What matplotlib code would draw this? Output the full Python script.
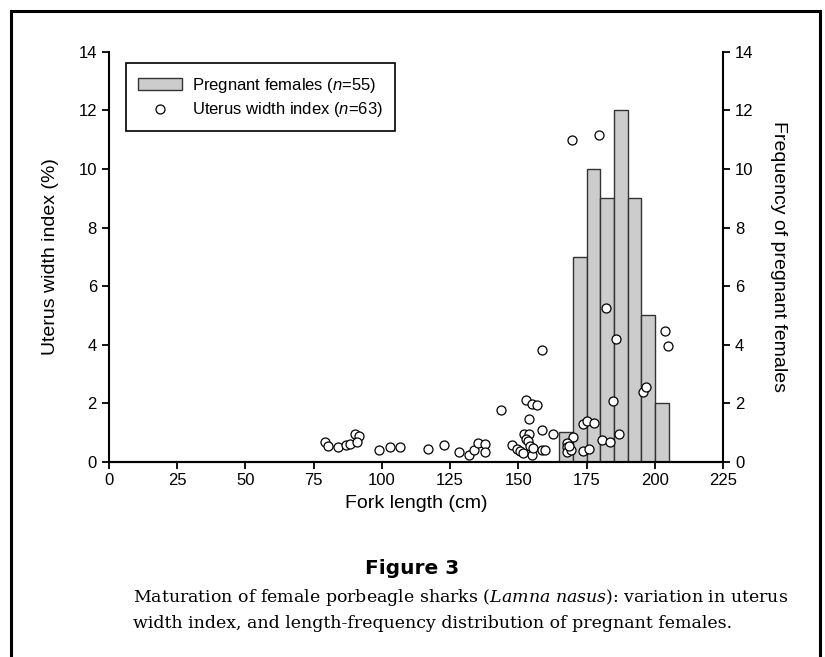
#!/usr/bin/env python3

import matplotlib
matplotlib.use('Agg')
import matplotlib.pyplot as plt
from matplotlib.patches import Rectangle

# pregnant females, 5 cm bins
bin_left = [165, 170, 175, 180, 185, 190, 195, 200]
bin_count = [1, 7, 10, 9, 12, 9, 5, 2]

# uterus width index vs fork length
fork_len = [79.0, 80.2, 83.9, 87.0, 88.2, 90.0, 91.8, 90.9, 98.9, 102.8,
            106.5, 116.8, 122.9, 128.4, 131.8, 133.9, 135.1, 137.9, 137.9, 143.6,
            147.6, 149.4, 150.7, 152.1, 153.7, 152.8, 153.4, 154.3, 154.8, 152.8,
            155.0, 156.8, 153.8, 155.2, 151.5,
            158.7, 158.7, 158.7, 159.8, 162.8,
            169.9, 167.6, 167.9, 167.6, 169.2, 168.4,
            169.5, 179.6,
            173.8, 175.0, 177.8, 173.8, 175.7, 180.6, 181.9, 183.7, 184.7, 185.7, 186.7,
            195.7, 196.7, 203.6, 204.7]
uwi = [0.66, 0.55, 0.51, 0.57, 0.61, 0.93, 0.89, 0.66, 0.41, 0.51,
       0.51, 0.43, 0.58, 0.32, 0.24, 0.39, 0.63, 0.61, 0.32, 1.75,
       0.56, 0.43, 0.36, 0.95, 0.94, 0.78, 0.70, 0.52, 0.23, 2.10,
       1.96, 1.94, 1.45, 0.47, 0.30,
       3.81, 1.09, 0.39, 0.39, 0.94,
       0.86, 0.63, 0.50, 0.32, 0.39, 0.55,
       10.98, 11.16,
       1.29, 1.40, 1.31, 0.36, 0.42, 0.74, 5.24, 0.67, 2.09, 4.18, 0.94,
       2.37, 2.56, 4.45, 3.95]


def main():
    plt.rcParams['font.family'] = ['Liberation Sans', 'DejaVu Sans']
    plt.rcParams['mathtext.fontset'] = 'custom'
    plt.rcParams['mathtext.rm'] = 'Liberation Sans'
    plt.rcParams['mathtext.it'] = 'Liberation Sans:italic'

    fig = plt.figure(figsize=(8.25, 6.57), dpi=100)
    ax = fig.add_axes([0.1318, 0.2973, 0.7449, 0.6236])
    ax2 = ax.twinx()

    ax2.bar(bin_left, bin_count, width=5, align='edge', color='#cccccc',
            edgecolor='#333333', linewidth=1.0, label='Pregnant females ($n$=55)')
    ax2.set_ylim(0, 14)
    ax2.set_yticks(range(0, 15, 2))
    ax2.set_ylabel('Frequency of pregnant females', rotation=270,
                   labelpad=24, fontsize=14)

    sc = ax.scatter(fork_len, uwi, s=42, facecolor='white', edgecolor='black',
                    linewidths=0.9, zorder=3, label='Uterus width index ($n$=63)')
    ax.set_xlim(0, 225)
    ax.set_ylim(0, 14)
    ax.set_xticks(range(0, 226, 25))
    ax.set_yticks(range(0, 15, 2))
    ax.set_xlabel('Fork length (cm)', fontsize=14, labelpad=5)
    ax.set_ylabel('Uterus width index (%)', fontsize=14, labelpad=14)

    ax.set_zorder(ax2.get_zorder() + 1)
    ax.patch.set_visible(False)

    for a in (ax, ax2):
        a.spines['top'].set_visible(False)
        for s in a.spines.values():
            s.set_linewidth(1.5)
        a.tick_params(direction='out', length=5, width=1.3, labelsize=12)
    ax.spines['right'].set_visible(False)
    ax2.spines['left'].set_visible(False)

    bars = ax2.containers[0]
    leg = ax.legend([bars, sc], [bars.get_label(), sc.get_label()],
                    loc='upper left', bbox_to_anchor=(0.028, 0.973),
                    borderaxespad=0, fancybox=False, framealpha=1,
                    edgecolor='black', fontsize=12, handlelength=2.6,
                    handletextpad=0.6, borderpad=0.75, labelspacing=0.3,
                    scatterpoints=1)
    leg.get_frame().set_linewidth(1.2)

    fig.add_artist(Rectangle((11 / 825, -0.02), 809 / 825, 646 / 657 + 0.02,
                             transform=fig.transFigure, fill=False, lw=2.2,
                             edgecolor='black'))

    fig.text(0.5, 1 - 569 / 657, 'Figure 3', ha='center', va='center',
             fontsize=14.5, fontweight='bold', family='DejaVu Sans')
    fig.text(133 / 825, 1 - 598 / 657,
             'Maturation of female porbeagle sharks ($\\mathit{Lamna\\ nasus}$): '
             'variation in uterus',
             ha='left', va='center', family='DejaVu Serif', fontsize=12.5,
             math_fontfamily='dejavuserif')
    fig.text(133 / 825, 1 - 623 / 657,
             'width index, and length-frequency distribution of pregnant females.',
             ha='left', va='center', family='DejaVu Serif', fontsize=12.5)

    plt.savefig('out.png')


if __name__ == '__main__':
    main()
